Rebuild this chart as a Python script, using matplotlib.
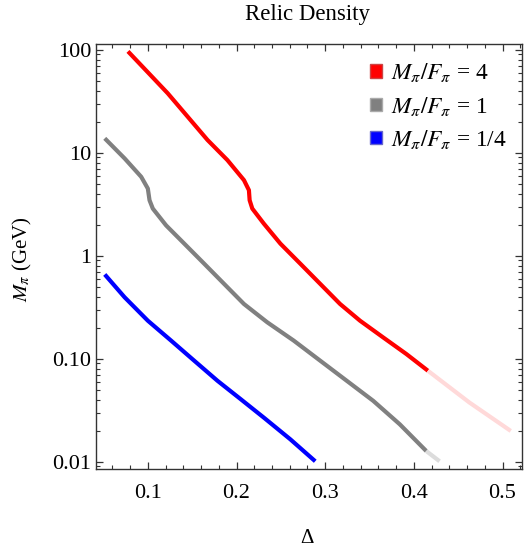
import numpy as np
import matplotlib
matplotlib.use("Agg")
import matplotlib.pyplot as plt
from matplotlib.patches import Patch

plt.rcParams['font.family'] = ['Liberation Serif', 'DejaVu Serif']
plt.rcParams['mathtext.fontset'] = 'stix'

# relic density curves, Delta vs M_pi (GeV)
delta_r4 = [0.0776, 0.1000, 0.1224, 0.1449, 0.1673, 0.1897, 0.2084, 0.2140, 0.2148,
            0.2178, 0.2308, 0.2495, 0.2720, 0.2944, 0.3168, 0.3393, 0.3654, 0.3916, 0.4159]
mpi_r4 = [96.4, 60.4, 37.8, 22.4, 13.3, 8.49, 5.42, 4.33, 3.46,
          2.87, 2.05, 1.31, 0.836, 0.533, 0.340, 0.234, 0.161, 0.111, 0.0764]
# faded tail of the M/F = 4 curve
delta_r4_tail = [0.4159, 0.4626, 0.5093]
mpi_r4_tail = [0.0764, 0.0376, 0.0199]

delta_r1 = [0.0514, 0.0738, 0.0925, 0.1000, 0.1019, 0.1056, 0.1206, 0.1411, 0.1636,
            0.1860, 0.2084, 0.2346, 0.2645, 0.2944, 0.3243, 0.3542, 0.3841, 0.4140]
mpi_r1 = [13.8, 8.81, 5.84, 4.49, 3.46, 2.87, 1.97, 1.31, 0.836,
          0.533, 0.340, 0.226, 0.150, 0.0957, 0.0611, 0.0390, 0.0231, 0.0127]
delta_r1_tail = [0.4140, 0.4290]
mpi_r1_tail = [0.0127, 0.0101]

delta_rq = [0.0514, 0.0738, 0.1000, 0.1262, 0.1523, 0.1785, 0.2047, 0.2308, 0.2607, 0.2888]
mpi_rq = [0.658, 0.395, 0.234, 0.150, 0.0957, 0.0611, 0.0405, 0.0268, 0.0165, 0.0101]

ytick_vals = [0.01, 0.1, 1, 10, 100]
ytick_labels = ['0.01', '0.10', '1', '10', '100']

fig = plt.figure(figsize=(5.25, 5.48), dpi=100)
ax = fig.add_axes([0.1823, 0.1442, 0.8120, 0.7764])

lw = 3.0
ax.plot(delta_r4, mpi_r4, color='#ff0000', lw=lw, solid_capstyle='butt')
ax.plot(delta_r4_tail, mpi_r4_tail, color='#ffd9d9', lw=lw, solid_capstyle='butt')
ax.plot(delta_r1, mpi_r1, color='#808080', lw=lw, solid_capstyle='butt')
ax.plot(delta_r1_tail, mpi_r1_tail, color='#dcdcdc', lw=lw, solid_capstyle='butt')
ax.plot(delta_rq, mpi_rq, color='#0000ff', lw=lw, solid_capstyle='butt')

ax.set_yscale('log')
ax.set_xlim(0.0412, 0.522)
ax.set_ylim(0.0085, 115)
ax.set_xticks([0.1, 0.2, 0.3, 0.4, 0.5])
ax.set_xticklabels(['0.1', '0.2', '0.3', '0.4', '0.5'])
ax.set_xticks(np.arange(0.06, 0.521, 0.02), minor=True)
ax.set_yticks(ytick_vals)
ax.set_yticklabels(ytick_labels)

for s in ax.spines.values():
    s.set_linewidth(1.0)
    s.set_color('#333333')
ax.tick_params(which='both', direction='in', top=True, right=True, labelsize=16,
               color='#333333')
ax.tick_params(which='major', length=5, width=0.9)
ax.tick_params(which='minor', length=2.8, width=0.8)
ax.tick_params(axis='x', pad=11)
ax.tick_params(axis='y', pad=3)

fig.text(0.585, 0.973, 'Relic Density', ha='center', va='center', fontsize=16.5)
fig.text(0.585, 0.018, 'Δ', ha='center', va='center', fontsize=15)
fig.text(0.042, 0.527, r'$M_\pi$ (GeV)', ha='center', va='center', rotation=90, fontsize=15)

handles = [Patch(facecolor='#ff0000', edgecolor='#cc4444', label=r'$M_\pi/F_\pi$ = 4'),
           Patch(facecolor='#808080', edgecolor='#aaaaaa', label=r'$M_\pi/F_\pi$ = 1'),
           Patch(facecolor='#0000ff', edgecolor='#6666cc', label=r'$M_\pi/F_\pi$ = 1/4')]
ax.legend(handles=handles, loc='upper left', bbox_to_anchor=(0.6435, 0.958),
          frameon=False, fontsize=16.8, handlelength=0.52, handleheight=0.52,
          handletextpad=0.4, labelspacing=0.44, borderaxespad=0, borderpad=0)

fig.savefig('out.png', dpi=100)
